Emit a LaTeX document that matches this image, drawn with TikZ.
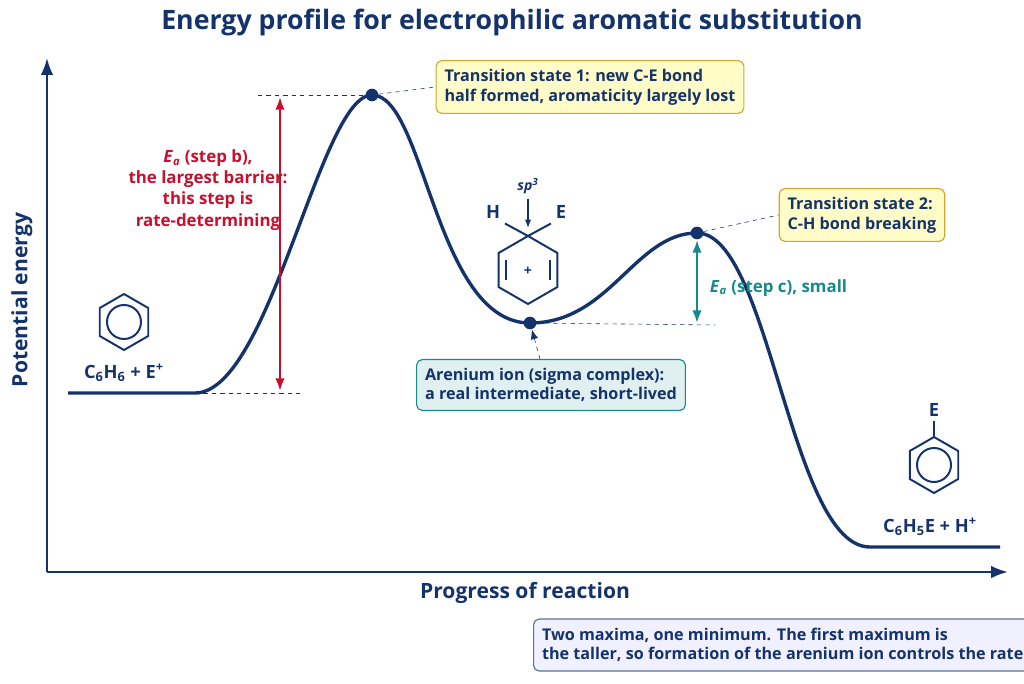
\documentclass[tikz,border=0pt]{standalone}
\usepackage{fontspec}
\setmainfont{Open Sans}
\usetikzlibrary{arrows.meta}
\definecolor{navy}{HTML}{15336B}
\definecolor{barred}{HTML}{C8102E}
\definecolor{tealc}{HTML}{168A8A}
\tikzset{
    profile/.style={navy,line width=2.4pt},
    guide/.style={navy,dashed,thin},
    state/.style={circle,fill=navy,inner sep=0pt,minimum size=9pt},
    note/.style={draw,rounded corners=4pt,align=left,font=\fontsize{11.5}{14}\selectfont\bfseries,text=navy,inner sep=6pt,line width=0.8pt},
    ring/.style={navy,line width=1.4pt},
    benzene/.pic={
        \draw[ring] (90:28) -- (150:28) -- (210:28) -- (270:28) -- (330:28) -- (30:28) -- cycle;
        \draw[ring] (0,0) circle (17);
    }
}
\newcommand{\Ea}{\textit{E}\textsubscript{\textit{a}}}
\begin{document}
\begin{tikzpicture}[x=0.025cm,y=-0.025cm]
    \useasboundingbox (0,0) rectangle (1024,683);
    \node[font=\fontsize{19}{22}\selectfont\bfseries,text=navy] (title) at (512,22) {Energy profile for electrophilic aromatic substitution};
    % axes
    \draw[navy,line width=1.8pt,-{Latex[length=12pt]}] (47,572) -- (47,58);
    \draw[navy,line width=1.8pt,-{Latex[length=12pt]}] (47,572) -- (1008,572);
    \node[font=\fontsize{15}{18}\selectfont\bfseries,text=navy,rotate=90] (ylab) at (22,300) {Potential energy};
    \node[font=\fontsize{15}{18}\selectfont\bfseries,text=navy] (xlab) at (525,593) {Progress of reaction};
    % profile
    \coordinate (r0) at (68,393);
    \coordinate (r1) at (195,393);
    \node[state] (ts1) at (372,95) {};
    \node[state] (mid) at (530,323) {};
    \node[state] (ts2) at (697,233) {};
    \coordinate (p0) at (870,547);
    \coordinate (p1) at (1000,547);
    \draw[profile] (r0) -- (r1) .. controls (270,393) and (320,95) .. (ts1.center)
        .. controls (425,95) and (435,323) .. (mid.center)
        .. controls (610,323) and (635,233) .. (ts2.center)
        .. controls (770,233) and (790,547) .. (p0) -- (p1);
    % guides and barriers
    \coordinate (g1) at (258,95);
    \coordinate (g2) at (300,393);
    \coordinate (g3) at (715,325);
    \draw[guide] (g1) -- (ts1);
    \draw[guide] (r1) -- (g2);
    \draw[guide] (mid) -- (g3);
    \coordinate (b1) at (280,97);
    \coordinate (b2) at (280,391);
    \draw[barred,line width=1.6pt,{Latex[length=9pt]}-{Latex[length=9pt]}] (b1) -- (b2);
    \coordinate (c1) at (697,240);
    \coordinate (c2) at (697,323);
    \draw[tealc,line width=1.6pt,{Latex[length=9pt]}-{Latex[length=9pt]}] (c1) -- (c2);
    \node[text=barred,font=\fontsize{12}{15}\selectfont\bfseries,align=center] (eab) at (208,190) {\Ea{} (step b),\\the largest barrier:\\this step is\\rate-determining};
    \node[text=tealc,font=\fontsize{12}{15}\selectfont\bfseries,anchor=west] (eac) at (705,288) {\Ea{} (step c), small};
    % state boxes
    \node[note,fill=yellow!22,draw=brown!70!yellow] (box1) at (590,87) {Transition state 1: new C-E bond\\half formed, aromaticity largely lost};
    \node[note,fill=yellow!22,draw=brown!70!yellow] (box2) at (862,215) {Transition state 2:\\C-H bond breaking};
    \node[note,fill=teal!12,draw=tealc] (box3) at (551,385) {Arenium ion (sigma complex):\\a real intermediate, short-lived};
    \node[note,fill=blue!6,draw=navy!70,minimum width=11.3cm,minimum height=1.3cm] (box4) at (785,645) {Two maxima, one minimum. The first maximum is\\the taller, so formation of the arenium ion controls the rate.};
    \draw[guide] (ts1) -- (box1.west);
    \draw[guide] (ts2) -- (box2.west);
    \draw[guide,-{Latex[length=7pt]}] (box3.north -| 540,0) -- (mid);
    % molecules
    \draw (124,322) pic {benzene};
    \node[text=navy,font=\fontsize{13}{16}\selectfont\bfseries] (react) at (124,373) {C\textsubscript{6}H\textsubscript{6} + E\textsuperscript{+}};
    \draw (934,465) pic {benzene};
    \coordinate (bz2) at (934,437);
    \node[text=navy,font=\fontsize{13}{16}\selectfont\bfseries] (E2) at (934,410) {E};
    \draw[ring] (bz2) -- (E2.south);
    \node[text=navy,font=\fontsize{13}{16}\selectfont\bfseries] (prod) at (930,527) {C\textsubscript{6}H\textsubscript{5}E + H\textsuperscript{+}};
    % arenium ion
    \begin{scope}[shift={(528,270)}]
        \draw[ring] (90:34) -- (150:34) -- (210:34) -- (270:34) -- (330:34) -- (30:34) -- cycle;
        \draw[ring] (-22,-10) -- (-22,10);
        \draw[ring] (22,-10) -- (22,10);
        \node[text=navy,font=\bfseries] (plus) at (0,1) {+};
    \end{scope}
    \coordinate (sp) at (528,236);
    \node[text=navy,font=\fontsize{13}{16}\selectfont\bfseries] (H) at (493,212) {H};
    \node[text=navy,font=\fontsize{13}{16}\selectfont\bfseries] (E1) at (561,212) {E};
    \node[text=navy,font=\bfseries] (sp3) at (528,186) {\itshape sp\textsuperscript{3}};
    \draw[ring] (sp) -- (H.south east);
    \draw[ring] (sp) -- (E1.south west);
    \draw[navy,thick,-{Latex[length=6pt]}] (sp3.south) -- (528,228);
\end{tikzpicture}
\end{document}
